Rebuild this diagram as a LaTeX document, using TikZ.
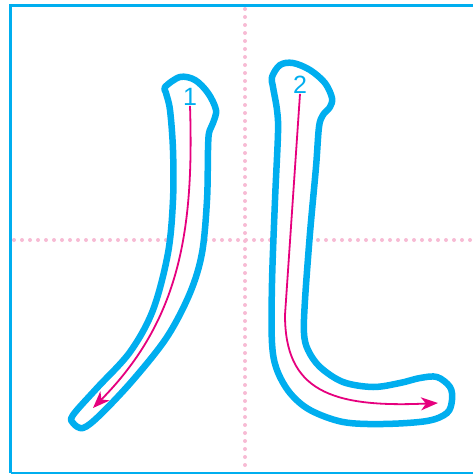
\documentclass[tikz,border=0pt]{standalone}
\usepackage{fontspec}
\setmainfont{Liberation Sans}
\usetikzlibrary{arrows.meta}
\definecolor{strokeblue}{RGB}{0,174,239}
\definecolor{guidepink}{RGB}{247,187,212}
\definecolor{arrowmag}{RGB}{230,0,126}
\tikzset{
  guide/.style={guidepink, line width=4pt, line cap=round, dash pattern=on 0pt off 8pt},
  outline/.style={strokeblue, line width=6.5pt, line join=round, fill=white},
  order/.style={arrowmag, line width=1.8pt, -{Stealth[length=17pt,width=13pt,inset=5pt]}},
  num/.style={text=strokeblue, font=\fontsize{25}{25}\selectfont, inner sep=0pt}
}
\begin{document}
\begin{tikzpicture}[x=1pt,y=-1pt]
  \useasboundingbox (0,0) rectangle (473,474);
  % frame
  \draw[strokeblue, line width=3.5pt] (473,5.5) -- (10.7,5.5) -- (10.7,473);
  \draw[strokeblue, line width=2.5pt] (10.7,473) -- (473,473);
  % guide lines
  \draw[guide] (245,9) -- (245,472);
  \draw[guide] (14,240) -- (473,240);
  % first stroke outline
  \draw[outline] plot[smooth cycle, tension=0.55] coordinates {
    (165,87) (180,77) (195,80) (208,93) (216,110) (213,123) (209,133)
    (208,150) (207,200) (202,253) (190,293) (167,337) (133,380) (100,415)
    (83,428) (73,423) (73,415) (97,388) (130,352) (153,310) (168,253)
    (173,200) (173,150) (170,110) (166,93)};
  % second stroke outline
  \draw[outline] plot[smooth cycle, tension=0.55] coordinates {
    (272,77) (280,65) (293,63) (310,70) (325,83) (332,98) (330,107)
    (323,115) (319,127) (316,167) (310,233) (305,300) (304,333) (308,350)
    (320,367) (343,382) (373,387) (400,383) (420,378) (437,377) (450,387)
    (452,400) (447,413) (427,421) (383,424) (343,422) (310,410) (290,393)
    (277,370) (272,343) (272,283) (275,200) (278,133) (277,110) (273,87)};
  % stroke order
  \node[num] (n1) at (190,97) {1};
  \node[num] (n2) at (300,85) {2};
  \coordinate (e1) at (93,408);
  \coordinate (k2) at (285,315);
  \coordinate (e2) at (438,403);
  \draw[order] (n1.south) .. controls (194,230) and (180,320) .. (e1);
  \draw[order] (n2.south) -- (k2) .. controls (285,390) and (330,408) .. (e2);
\end{tikzpicture}
\end{document}
